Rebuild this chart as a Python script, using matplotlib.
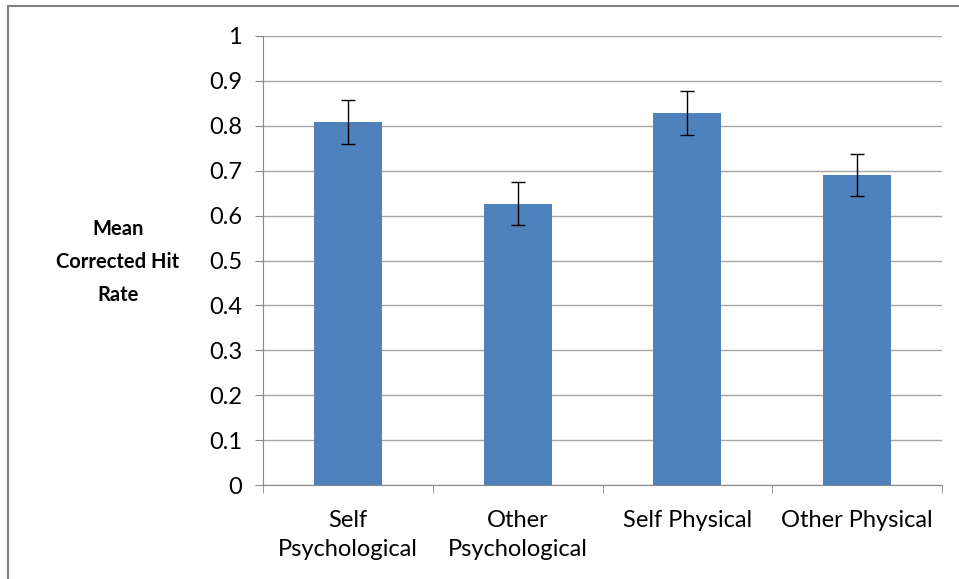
import numpy as np
import matplotlib.pyplot as plt
import matplotlib.patches as patches

plt.rcParams['font.family'] = ['Lato', 'DejaVu Sans']

categories = ['Self\nPsychological', 'Other\nPsychological', 'Self Physical', 'Other Physical']
means = [0.808, 0.626, 0.829, 0.690]
errors = [0.049, 0.048, 0.049, 0.047]

fig = plt.figure(figsize=(9.59, 5.79), dpi=100)
ax = fig.add_axes([263 / 959, 1 - 485 / 579, (942 - 263) / 959, (485 - 36) / 579])

x_pos = np.arange(len(categories))
ax.bar(x_pos, means, 0.4, color='#4F81BD', zorder=3,
       yerr=errors, error_kw=dict(ecolor='black', elinewidth=1, capsize=5, capthick=1, zorder=4))

ax.set_xlim(-0.5, 3.5)
ax.set_ylim(0, 1)
ax.set_yticks(np.arange(0, 1.01, 0.1))
ax.set_yticklabels(['0'] + ['%.1f' % v for v in np.arange(0.1, 0.95, 0.1)] + ['1'], fontsize=17)
ax.yaxis.grid(True, color='#A6A6A6', linewidth=1, zorder=0)

ax.set_xticks(x_pos)
ax.set_xticklabels(categories, fontsize=17, linespacing=1.45)
ax.set_xticks(np.arange(-0.5, 4, 1), minor=True)
ax.tick_params(axis='x', which='major', length=0, pad=18)
ax.tick_params(axis='x', which='minor', length=6, color='#868686', direction='out')
ax.tick_params(axis='y', length=6, color='#868686', direction='out', pad=9)

for s in ['top', 'right']:
    ax.spines[s].set_visible(False)
for s in ['left', 'bottom']:
    ax.spines[s].set_color('#868686')

fig.text(118 / 959, 1 - 262 / 579, 'Mean\nCorrected Hit\nRate', fontsize=14.5, fontweight='bold',
         ha='center', va='center', linespacing=1.8)

fig.patches.append(patches.Rectangle((8 / 959, -0.1), 1.2, 1 - 6 / 579 + 0.1, transform=fig.transFigure,
                                     fill=False, edgecolor='#7F7F7F', linewidth=1.5))

fig.savefig('out.png', dpi=100)
